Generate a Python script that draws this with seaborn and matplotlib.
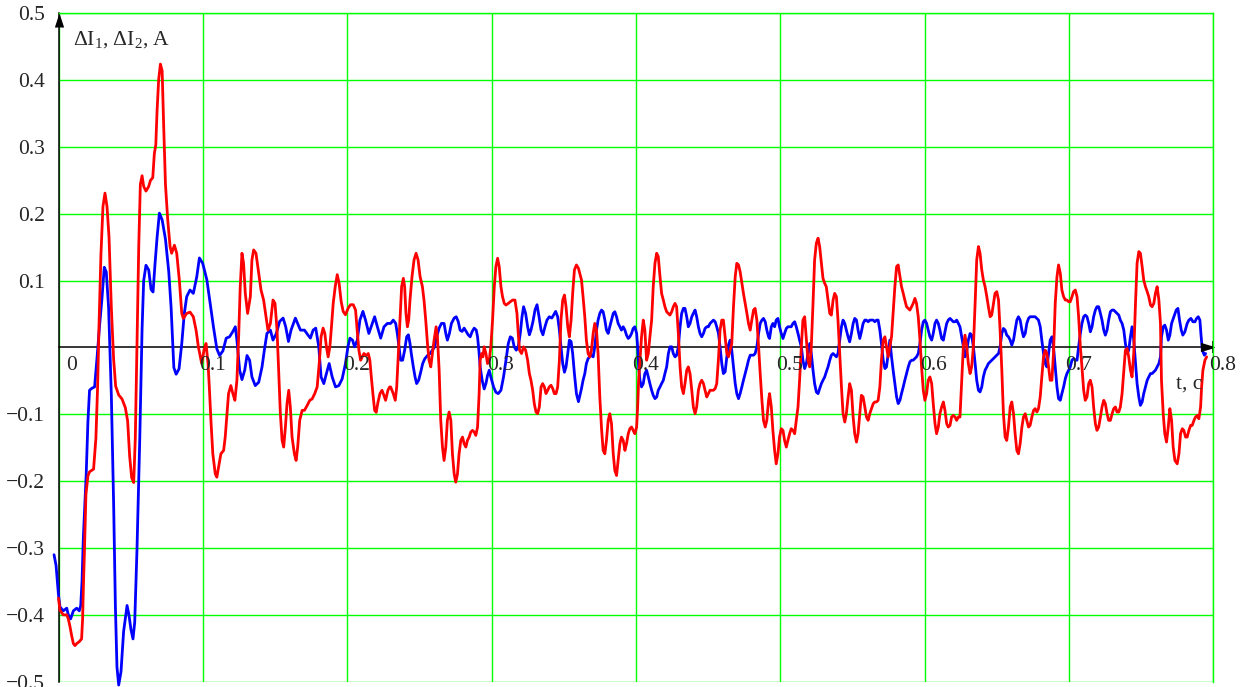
import numpy as np
import pandas as pd
import matplotlib
matplotlib.use("Agg")
import matplotlib.pyplot as plt
import seaborn as sns
from matplotlib.transforms import offset_copy

# values: t in s, current deviation in A
# start of the record (t < 0.36), blue = dI1
t_start_blue = [
    -0.0031, -0.0017, -0.0008, -0.0001, 0.0010, 0.0033, 0.0057, 0.0068, 0.0084, 0.0103,
    0.0126, 0.0144, 0.0154, 0.0163, 0.0172,
    0.0192, 0.0204, 0.0215, 0.0231, 0.0250, 0.0266, 0.0285, 0.0301, 0.0317,
    0.0331, 0.0347, 0.0366, 0.0382, 0.0394, 0.0405, 0.0417, 0.0433, 0.0451, 0.0475,
    0.0488, 0.0502, 0.0516, 0.0528, 0.0544, 0.0563, 0.0579, 0.0590, 0.0606, 0.0625,
    0.0641, 0.0655, 0.0669, 0.0683, 0.0699, 0.0718,
    0.0741, 0.0764, 0.0780, 0.0799, 0.0815, 0.0835, 0.0854, 0.0871, 0.0888, 0.0911,
    0.0934, 0.0958, 0.0976, 0.0999,
    0.1028, 0.1051, 0.1074, 0.1097, 0.1116, 0.1139, 0.1162, 0.1185,
    0.1208, 0.1225, 0.1236, 0.1255, 0.1271, 0.1290, 0.1306, 0.1324, 0.1340, 0.1363,
    0.1387, 0.1410, 0.1426, 0.1444, 0.1468, 0.1486, 0.1509, 0.1532, 0.1556, 0.1574,
    0.1593, 0.1611, 0.1641, 0.1660, 0.1676, 0.1704, 0.1727, 0.1745, 0.1764, 0.1782,
    0.1803, 0.1819, 0.1838, 0.1856, 0.1875, 0.1896, 0.1919, 0.1942, 0.1965, 0.1988,
    0.2005, 0.2019, 0.2037, 0.2051, 0.2070, 0.2088, 0.2109, 0.2127, 0.2150, 0.2174,
    0.2190, 0.2209, 0.2232, 0.2255, 0.2278,
    0.2301, 0.2319, 0.2336, 0.2347, 0.2359, 0.2370, 0.2384, 0.2398, 0.2412, 0.2424,
    0.2435, 0.2444, 0.2458, 0.2470, 0.2481, 0.2495, 0.2509, 0.2523, 0.2537, 0.2556,
    0.2574, 0.2590, 0.2606, 0.2620, 0.2637, 0.2653, 0.2671, 0.2683, 0.2694, 0.2708,
    0.2722, 0.2741, 0.2755, 0.2769, 0.2782, 0.2796, 0.2810, 0.2824, 0.2838, 0.2852,
    0.2866, 0.2880, 0.2894, 0.2903, 0.2912, 0.2921, 0.2935, 0.2949, 0.2961, 0.2972,
    0.2984, 0.2995, 0.3014, 0.3030, 0.3046, 0.3065, 0.3083, 0.3100, 0.3116, 0.3130,
    0.3144, 0.3157, 0.3171, 0.3185, 0.3199, 0.3211, 0.3222, 0.3236, 0.3250, 0.3262,
    0.3273, 0.3287, 0.3301, 0.3315, 0.3329, 0.3343, 0.3356, 0.3370, 0.3384, 0.3400,
    0.3417, 0.3431, 0.3444, 0.3458, 0.3470, 0.3481, 0.3493, 0.3505, 0.3516, 0.3528,
    0.3539, 0.3551, 0.3562, 0.3574, 0.3588, 0.3602,
]
i_start_blue = [
    -0.310, -0.326, -0.350, -0.368, -0.388, -0.394, -0.390, -0.400, -0.406, -0.394,
    -0.390, -0.394, -0.386, -0.350, -0.285,
    -0.189, -0.110, -0.064, -0.061, -0.059, -0.018, 0.034, 0.073, 0.120,
    0.113, 0.060, -0.071, -0.235, -0.386, -0.478, -0.505, -0.485, -0.425, -0.386,
    -0.400, -0.422, -0.436, -0.411, -0.300, -0.136, 0.028, 0.100, 0.123, 0.116,
    0.087, 0.083, 0.126, 0.165, 0.201, 0.191,
    0.162, 0.113, 0.060, -0.030, -0.040, -0.032, 0.006, 0.050, 0.076, 0.086,
    0.081, 0.106, 0.134, 0.126,
    0.101, 0.066, 0.030, -0.002, -0.012, -0.005, 0.014, 0.016,
    0.024, 0.031, 0.011, -0.034, -0.048, -0.034, -0.012, -0.019, -0.044, -0.057,
    -0.052, -0.029, -0.004, 0.021, 0.026, 0.011, 0.021, 0.039, 0.044, 0.031,
    0.009, 0.026, 0.044, 0.034, 0.026, 0.026, 0.019, 0.014, 0.026, 0.029,
    0.001, -0.044, -0.054, -0.039, -0.024, -0.044, -0.059, -0.057, -0.047, -0.024,
    0.001, 0.014, 0.011, 0.001, 0.011, 0.041, 0.054, 0.041, 0.021, 0.036,
    0.046, 0.031, 0.014, 0.031, 0.036,
    0.036, 0.041, 0.036, 0.021, 0.001, -0.019, -0.019, -0.004, 0.016, 0.019,
    0.006, -0.009, -0.029, -0.044, -0.054, -0.049, -0.037, -0.024, -0.017, -0.012,
    -0.009, -0.004, 0.001, 0.016, 0.029, 0.036, 0.036, 0.021, 0.011, 0.021,
    0.036, 0.044, 0.046, 0.039, 0.026, 0.024, 0.029, 0.024, 0.019, 0.016,
    0.024, 0.029, 0.026, 0.016, -0.004, -0.029, -0.049, -0.062, -0.054, -0.042,
    -0.034, -0.044, -0.059, -0.067, -0.069, -0.064, -0.044, -0.019, 0.006, 0.016,
    0.014, 0.001, -0.004, 0.001, 0.021, 0.046, 0.061, 0.051, 0.031, 0.019,
    0.026, 0.039, 0.056, 0.064, 0.046, 0.026, 0.019, 0.031, 0.041, 0.046,
    0.044, 0.049, 0.054, 0.046, 0.026, 0.001, -0.024, -0.037, -0.029, -0.009,
    0.011, 0.009, -0.009, -0.039, -0.069, -0.081,
]

# start of the record, red = dI2
t_start_red = [
    0.0000, 0.0010, 0.0033, 0.0057, 0.0068, 0.0080, 0.0091, 0.0103, 0.0114, 0.0126,
    0.0144, 0.0160, 0.0167, 0.0172, 0.0179, 0.0190, 0.0204,
    0.0215, 0.0243, 0.0259, 0.0271, 0.0280, 0.0294, 0.0308, 0.0322, 0.0336,
    0.0350, 0.0366, 0.0382, 0.0396, 0.0417, 0.0440, 0.0463, 0.0479, 0.0493, 0.0507,
    0.0521, 0.0532, 0.0544, 0.0556, 0.0567, 0.0579, 0.0590, 0.0606, 0.0625, 0.0637,
    0.0653, 0.0664, 0.0674, 0.0683, 0.0694, 0.0706, 0.0718, 0.0729, 0.0741,
    0.0757, 0.0773, 0.0784, 0.0803, 0.0819, 0.0837, 0.0854, 0.0865, 0.0888, 0.0911,
    0.0934, 0.0953, 0.0969, 0.0992, 0.1008, 0.1022, 0.1036, 0.1045,
    0.1056, 0.1069, 0.1086, 0.1097, 0.1109, 0.1125, 0.1144, 0.1155, 0.1167,
    0.1178, 0.1194, 0.1208, 0.1222, 0.1236, 0.1248, 0.1259, 0.1271, 0.1282, 0.1294,
    0.1310, 0.1329, 0.1340, 0.1352, 0.1368, 0.1387, 0.1403, 0.1421, 0.1438, 0.1451,
    0.1468, 0.1486, 0.1500, 0.1514, 0.1525, 0.1537, 0.1549, 0.1560, 0.1572, 0.1583,
    0.1595, 0.1606, 0.1618, 0.1634, 0.1646, 0.1657, 0.1671, 0.1688, 0.1704, 0.1722,
    0.1741, 0.1757, 0.1775, 0.1792, 0.1808, 0.1819, 0.1833, 0.1845, 0.1856, 0.1868,
    0.1880, 0.1891, 0.1903, 0.1917, 0.1931, 0.1944, 0.1958, 0.1972, 0.1988, 0.2007,
    0.2023, 0.2042, 0.2058, 0.2069, 0.2081, 0.2093, 0.2104, 0.2116, 0.2132, 0.2146,
    0.2157, 0.2167, 0.2178, 0.2190, 0.2201, 0.2213, 0.2227, 0.2241, 0.2255, 0.2266,
    0.2282, 0.2294,
    0.2301, 0.2319, 0.2333, 0.2343, 0.2352, 0.2366, 0.2377, 0.2389, 0.2398, 0.2407,
    0.2417, 0.2426, 0.2435, 0.2449, 0.2463, 0.2477, 0.2491, 0.2505, 0.2521, 0.2532,
    0.2544, 0.2556, 0.2567, 0.2579, 0.2590, 0.2602, 0.2616, 0.2625, 0.2637, 0.2648,
    0.2660, 0.2671, 0.2683, 0.2694, 0.2706, 0.2718, 0.2729, 0.2741, 0.2752, 0.2764,
    0.2775, 0.2787, 0.2799, 0.2810, 0.2822, 0.2833, 0.2845, 0.2856, 0.2868, 0.2880,
    0.2891, 0.2903, 0.2914, 0.2921, 0.2931, 0.2940, 0.2949, 0.2961, 0.2972, 0.2984,
    0.2995, 0.3007, 0.3019, 0.3030, 0.3042, 0.3053, 0.3065, 0.3076, 0.3088, 0.3100,
    0.3116, 0.3130, 0.3146, 0.3162, 0.3176, 0.3185, 0.3194, 0.3208, 0.3222, 0.3236,
    0.3250, 0.3262, 0.3273, 0.3285, 0.3296, 0.3308, 0.3319, 0.3331, 0.3343, 0.3354,
    0.3366, 0.3377, 0.3389, 0.3400, 0.3412, 0.3424, 0.3435, 0.3447, 0.3458, 0.3470,
    0.3481, 0.3493, 0.3505, 0.3516, 0.3528, 0.3539, 0.3551, 0.3562, 0.3574, 0.3588,
    0.3602,
]
i_start_red = [
    -0.375, -0.393, -0.400, -0.400, -0.406, -0.418, -0.431, -0.443, -0.446, -0.443,
    -0.440, -0.436, -0.406, -0.361, -0.310, -0.220, -0.192,
    -0.186, -0.182, -0.136, -0.058, 0.028, 0.139, 0.211, 0.231, 0.211,
    0.165, 0.060, -0.018, -0.058, -0.071, -0.077, -0.090, -0.110, -0.163, -0.195,
    -0.202, -0.136, 0.008, 0.152, 0.244, 0.257, 0.241, 0.234, 0.241, 0.250,
    0.254, 0.290, 0.303, 0.355, 0.401, 0.424, 0.414, 0.329, 0.244,
    0.190, 0.151, 0.141, 0.153, 0.141, 0.101, 0.051, 0.0435, 0.051, 0.053,
    0.046, 0.026, 0.001, -0.024, -0.004, 0.006, -0.024, -0.060,
    -0.109, -0.159, -0.189, -0.194, -0.179, -0.159, -0.154, -0.134, -0.099,
    -0.069, -0.057, -0.069, -0.079, -0.049, 0.016, 0.091, 0.141, 0.126, 0.081,
    0.051, 0.076, 0.131, 0.146, 0.141, 0.111, 0.086, 0.071, 0.046, 0.026,
    0.036, 0.071, 0.066, 0.026, -0.034, -0.099, -0.139, -0.149, -0.119, -0.084,
    -0.064, -0.089, -0.134, -0.159, -0.169, -0.149, -0.109, -0.094, -0.094, -0.087,
    -0.079, -0.077, -0.069, -0.059, -0.019, 0.016, 0.029, 0.021, 0.001, -0.014,
    0.001, 0.031, 0.066, 0.091, 0.109, 0.096, 0.069, 0.054, 0.049, 0.059,
    0.064, 0.064, 0.056, 0.026, -0.004, -0.019, -0.014, -0.009, -0.012, -0.009,
    -0.019, -0.044, -0.069, -0.094, -0.097, -0.082, -0.069, -0.064, -0.072, -0.079,
    -0.064, -0.059,
    -0.059, -0.069, -0.079, -0.059, -0.019, 0.041, 0.091, 0.1035, 0.091, 0.051,
    0.031, 0.041, 0.071, 0.106, 0.131, 0.141, 0.131, 0.106, 0.091, 0.071,
    0.041, 0.006, -0.019, -0.029, -0.009, 0.011, 0.031, 0.016, -0.034, -0.109,
    -0.149, -0.169, -0.149, -0.109, -0.0965, -0.109, -0.159, -0.189, -0.2015, -0.189,
    -0.159, -0.139, -0.134, -0.144, -0.149, -0.139, -0.134, -0.1265, -0.124, -0.1265,
    -0.1315, -0.119, -0.069, -0.019, -0.009, -0.014, 0.001, -0.009, -0.024, -0.019,
    0.001, 0.041, 0.091, 0.121, 0.1335, 0.121, 0.091, 0.076, 0.066, 0.0635,
    0.066, 0.0685, 0.071, 0.071, 0.051, 0.021, -0.004, -0.009, 0.001, -0.004,
    -0.019, -0.039, -0.049, -0.064, -0.084, -0.0965, -0.099, -0.089, -0.059, -0.054,
    -0.059, -0.069, -0.064, -0.059, -0.0565, -0.0615, -0.069, -0.069, -0.059, -0.019,
    0.041, 0.071, 0.0785, 0.061, 0.031, 0.016, 0.041, 0.081, 0.116, 0.1235,
    0.1185,
]

# middle part (0.36 .. 0.76), both currents read at the same instants
t_mid = [
    0.3623, 0.3634, 0.3646, 0.3657, 0.3669, 0.3681, 0.3692, 0.3704, 0.3715, 0.3727,
    0.3738, 0.3750, 0.3762, 0.3773, 0.3785, 0.3796, 0.3808, 0.3819, 0.3831, 0.3843,
    0.3854, 0.3866, 0.3877, 0.3889, 0.3900, 0.3912, 0.3924, 0.3935, 0.3947, 0.3958,
    0.3970, 0.3981, 0.3993, 0.4005, 0.4012, 0.4019, 0.4028, 0.4039, 0.4051, 0.4062,
    0.4074, 0.4086, 0.4097, 0.4109, 0.4120, 0.4132, 0.4144, 0.4155, 0.4167, 0.4178,
    0.4190, 0.4201, 0.4213, 0.4225, 0.4236, 0.4248, 0.4259, 0.4271, 0.4282, 0.4294,
    0.4306, 0.4317, 0.4329, 0.4340, 0.4352, 0.4363, 0.4375, 0.4387, 0.4398, 0.4410,
    0.4421, 0.4433, 0.4444, 0.4456, 0.4468, 0.4479, 0.4491, 0.4502, 0.4514, 0.4525,
    0.4537, 0.4549, 0.4560, 0.4572, 0.4583, 0.4595, 0.4606, 0.4618, 0.4630, 0.4641,
    0.4653, 0.4664, 0.4676, 0.4688, 0.4699, 0.4711, 0.4722, 0.4734, 0.4745, 0.4757,
    0.4769, 0.4780, 0.4792, 0.4803, 0.4815, 0.4826, 0.4838, 0.4850, 0.4861, 0.4873,
    0.4884, 0.4896, 0.4907, 0.4919,
    0.4926, 0.4938, 0.4949, 0.4961, 0.4972, 0.4984, 0.4995, 0.5007, 0.5019, 0.5030,
    0.5042, 0.5053, 0.5065, 0.5076, 0.5088, 0.5100, 0.5111, 0.5123, 0.5134, 0.5146,
    0.5157, 0.5169, 0.5181, 0.5192, 0.5204, 0.5215, 0.5227, 0.5238, 0.5250, 0.5262,
    0.5273, 0.5285, 0.5296, 0.5308, 0.5319, 0.5331, 0.5343, 0.5354, 0.5366, 0.5377,
    0.5389, 0.5400, 0.5412, 0.5424, 0.5435, 0.5447, 0.5458, 0.5470, 0.5481, 0.5493,
    0.5505, 0.5516, 0.5528, 0.5539, 0.5551, 0.5562, 0.5574, 0.5586, 0.5597, 0.5609,
    0.5620, 0.5632, 0.5644, 0.5655, 0.5667, 0.5678, 0.5690, 0.5701, 0.5713, 0.5725,
    0.5736, 0.5748, 0.5759, 0.5771, 0.5782, 0.5794, 0.5806, 0.5817, 0.5829, 0.5840,
    0.5852, 0.5863, 0.5875, 0.5887, 0.5898, 0.5910, 0.5921, 0.5933, 0.5944, 0.5956,
    0.5968, 0.5979, 0.5991, 0.6002, 0.6014, 0.6025, 0.6037, 0.6049, 0.6060, 0.6072,
    0.6083, 0.6095, 0.6106, 0.6118, 0.6130, 0.6141, 0.6153, 0.6164, 0.6176, 0.6187,
    0.6199, 0.6211, 0.6222, 0.6234,
    0.6245, 0.6257, 0.6269, 0.6280, 0.6292, 0.6303, 0.6315, 0.6326, 0.6338, 0.6350,
    0.6361, 0.6373, 0.6384, 0.6396, 0.6407, 0.6419, 0.6431, 0.6442, 0.6454, 0.6465,
    0.6477, 0.6488, 0.6500, 0.6512, 0.6523, 0.6535, 0.6546, 0.6558, 0.6569, 0.6581,
    0.6593, 0.6604, 0.6616, 0.6627, 0.6639, 0.6650, 0.6662, 0.6674, 0.6685, 0.6697,
    0.6708, 0.6720, 0.6731, 0.6743, 0.6755, 0.6766, 0.6778, 0.6789, 0.6801, 0.6812,
    0.6824, 0.6836, 0.6847, 0.6859, 0.6870, 0.6882, 0.6893, 0.6905, 0.6917, 0.6928,
    0.6940, 0.6951, 0.6963, 0.6975, 0.6986, 0.6998, 0.7009, 0.7021, 0.7032, 0.7044,
    0.7056, 0.7067, 0.7079, 0.7090, 0.7102, 0.7113, 0.7125, 0.7137, 0.7148, 0.7160,
    0.7171, 0.7183, 0.7194, 0.7206, 0.7218, 0.7229, 0.7241, 0.7252, 0.7264, 0.7275,
    0.7287, 0.7299, 0.7310, 0.7322, 0.7333, 0.7345, 0.7356, 0.7368, 0.7380, 0.7391,
    0.7403, 0.7414, 0.7426, 0.7437, 0.7449, 0.7461, 0.7472, 0.7484, 0.7495, 0.7507,
    0.7518, 0.7530, 0.7542, 0.7553, 0.7565, 0.7576, 0.7588, 0.7599, 0.7611, 0.7623,
    0.7634,
]
i_mid_blue = [
    -0.0615, -0.049, -0.039, -0.024, -0.0165, -0.014, -0.0115, -0.014, 0.001, 0.026,
    0.041, 0.051, 0.056, 0.0535, 0.041, 0.026, 0.021, 0.031, 0.041, 0.051,
    0.0535, 0.046, 0.036, 0.031, 0.026, 0.031, 0.026, 0.0185, 0.0135, 0.016,
    0.021, 0.0285, 0.031, 0.021, 0.001, -0.029, -0.049, -0.059, -0.054, -0.039,
    -0.034, -0.044, -0.054, -0.064, -0.0715, -0.0765, -0.074, -0.064, -0.059, -0.054,
    -0.049, -0.039, -0.029, -0.009, 0.001, 0.001, -0.009, -0.014, -0.0115, 0.001,
    0.031, 0.051, 0.0585, 0.0585, 0.046, 0.031, 0.036, 0.046, 0.051, 0.056,
    0.046, 0.031, 0.021, 0.016, 0.021, 0.0285, 0.031, 0.031, 0.036, 0.0385,
    0.041, 0.0385, 0.031, 0.021, 0.001, -0.024, -0.039, -0.0365, -0.014, 0.0035,
    0.011, -0.004, -0.029, -0.054, -0.069, -0.0765, -0.069, -0.059, -0.049, -0.039,
    -0.029, -0.019, -0.0115, -0.0115, -0.0115, -0.009, 0.001, 0.021, 0.036, 0.041,
    0.0435, 0.0385, 0.026, 0.016,
    0.0135, 0.031, 0.036, 0.031, 0.041, 0.0435, 0.031, 0.021, 0.0135, 0.021,
    0.0285, 0.031, 0.031, 0.031, 0.036, 0.0385, 0.031, 0.021, 0.011, 0.001,
    -0.019, -0.0315, -0.024, -0.009, 0.006, -0.009, -0.034, -0.054, -0.0665, -0.069,
    -0.0615, -0.054, -0.049, -0.044, -0.0365, -0.029, -0.019, -0.0115, -0.009, -0.0115,
    -0.014, -0.009, 0.011, 0.031, 0.041, 0.036, 0.026, 0.016, 0.0085, 0.021,
    0.036, 0.0435, 0.041, 0.026, 0.0135, 0.0235, 0.036, 0.041, 0.041, 0.0385,
    0.041, 0.041, 0.041, 0.0385, 0.041, 0.041, 0.026, 0.006, -0.019, -0.0315,
    -0.029, -0.009, 0.011, -0.014, -0.034, -0.054, -0.074, -0.084, -0.079, -0.069,
    -0.059, -0.049, -0.039, -0.029, -0.0215, -0.019, -0.019, -0.0165, -0.014, -0.009,
    0.006, 0.026, 0.0385, 0.041, 0.036, 0.026, 0.016, 0.011, 0.021, 0.036,
    0.041, 0.036, 0.026, 0.0135, 0.011, 0.0235, 0.036, 0.041, 0.0435, 0.041,
    0.0385, 0.0385, 0.041, 0.036,
    0.031, 0.016, 0.001, -0.014, -0.004, 0.011, 0.021, 0.0185, 0.001, -0.024,
    -0.049, -0.064, -0.0665, -0.059, -0.044, -0.034, -0.029, -0.024, -0.0215, -0.019,
    -0.0165, -0.014, -0.0115, -0.009, 0.001, 0.021, 0.0285, 0.026, 0.0185, 0.016,
    0.011, 0.0035, 0.011, 0.026, 0.041, 0.046, 0.041, 0.026, 0.016, 0.021,
    0.036, 0.0435, 0.046, 0.046, 0.046, 0.046, 0.0435, 0.041, 0.031, 0.011,
    -0.009, -0.024, -0.029, -0.009, 0.011, 0.016, 0.001, -0.029, -0.059, -0.0765,
    -0.079, -0.069, -0.059, -0.0465, -0.039, -0.034, -0.029, -0.019, -0.0165, -0.019,
    -0.019, 0.001, 0.021, 0.036, 0.046, 0.0485, 0.046, 0.036, 0.0235, 0.031,
    0.046, 0.056, 0.061, 0.061, 0.051, 0.041, 0.026, 0.0185, 0.026, 0.041,
    0.0535, 0.056, 0.056, 0.0535, 0.051, 0.0485, 0.041, 0.036, 0.026, 0.006,
    -0.009, -0.004, 0.016, 0.031, 0.011, -0.024, -0.054, -0.074, -0.0865, -0.0815,
    -0.069, -0.059, -0.049, -0.044, -0.039, -0.039, -0.0365, -0.034, -0.029, -0.024,
    -0.014,
]
i_mid_red = [
    0.101, 0.076, 0.046, 0.011, -0.009, -0.014, -0.004, 0.021, 0.036, 0.026,
    -0.009, -0.074, -0.1215, -0.154, -0.159, -0.139, -0.109, -0.099, -0.114, -0.159,
    -0.184, -0.1915, -0.169, -0.144, -0.134, -0.139, -0.154, -0.144, -0.129, -0.1215,
    -0.119, -0.124, -0.129, -0.119, -0.089, -0.049, -0.019, 0.016, 0.041, 0.026,
    -0.019, -0.009, 0.016, 0.041, 0.091, 0.126, 0.141, 0.136, 0.106, 0.081,
    0.071, 0.061, 0.0535, 0.051, 0.0485, 0.0535, 0.061, 0.066, 0.061, 0.021,
    -0.029, -0.059, -0.069, -0.054, -0.034, -0.029, -0.039, -0.064, -0.089, -0.099,
    -0.089, -0.064, -0.054, -0.049, -0.054, -0.064, -0.074, -0.069, -0.064, -0.064,
    -0.064, -0.0615, -0.054, -0.017, 0.026, 0.041, 0.041, 0.016, -0.009, -0.014,
    -0.004, 0.006, 0.061, 0.106, 0.126, 0.1235, 0.1135, 0.096, 0.081, 0.066,
    0.051, 0.036, 0.026, 0.041, 0.056, 0.0585, 0.041, 0.001, -0.039, -0.079,
    -0.109, -0.119, -0.109, -0.079,
    -0.069, -0.089, -0.124, -0.154, -0.174, -0.159, -0.134, -0.1215, -0.124, -0.139,
    -0.149, -0.139, -0.129, -0.1215, -0.124, -0.129, -0.109, -0.089, -0.049, 0.001,
    0.041, 0.046, 0.011, -0.019, -0.029, 0.001, 0.066, 0.131, 0.156, 0.1635,
    0.151, 0.126, 0.1035, 0.096, 0.091, 0.071, 0.051, 0.0485, 0.071, 0.081,
    0.076, 0.041, -0.009, -0.059, -0.099, -0.1115, -0.099, -0.074, -0.054, -0.064,
    -0.104, -0.129, -0.1415, -0.129, -0.099, -0.0715, -0.074, -0.089, -0.104, -0.109,
    -0.099, -0.0915, -0.084, -0.0815, -0.0815, -0.079, -0.059, -0.019, 0.011, 0.016,
    0.001, -0.014, 0.001, 0.016, 0.051, 0.091, 0.121, 0.1235, 0.106, 0.091,
    0.081, 0.071, 0.061, 0.0585, 0.056, 0.061, 0.066, 0.0735, 0.066, 0.046,
    0.011, -0.029, -0.064, -0.079, -0.069, -0.049, -0.044, -0.054, -0.084, -0.114,
    -0.129, -0.119, -0.099, -0.089, -0.0815, -0.094, -0.114, -0.119, -0.1165, -0.104,
    -0.1015, -0.104, -0.109, -0.104,
    -0.104, -0.049, 0.0035, 0.0185, 0.001, -0.024, -0.039, -0.029, 0.001, 0.066,
    0.131, 0.151, 0.141, 0.116, 0.101, 0.091, 0.076, 0.061, 0.046, 0.0485,
    0.066, 0.081, 0.0835, 0.071, 0.026, -0.034, -0.099, -0.134, -0.139, -0.119,
    -0.089, -0.0815, -0.099, -0.129, -0.154, -0.159, -0.144, -0.119, -0.104, -0.099,
    -0.109, -0.119, -0.1165, -0.104, -0.094, -0.0915, -0.0965, -0.0915, -0.074, -0.044,
    -0.014, -0.004, -0.009, -0.029, -0.049, -0.049, -0.009, 0.066, 0.106, 0.1235,
    0.111, 0.086, 0.076, 0.071, 0.071, 0.0685, 0.0685, 0.076, 0.0835, 0.086,
    0.076, 0.046, 0.001, -0.029, -0.064, -0.079, -0.074, -0.054, -0.049, -0.059,
    -0.089, -0.114, -0.124, -0.119, -0.104, -0.089, -0.079, -0.084, -0.099, -0.109,
    -0.109, -0.099, -0.0915, -0.089, -0.0965, -0.0965, -0.089, -0.069, -0.034, -0.004,
    -0.0015, -0.014, -0.034, -0.044, -0.009, 0.066, 0.126, 0.1435, 0.141, 0.121,
    0.101, 0.091, 0.0835, 0.076, 0.0635, 0.061, 0.066, 0.081, 0.091, 0.071,
    0.036,
]

# end of the record (t > 0.76)
t_end_blue = [
    0.7641, 0.7653, 0.7664, 0.7676, 0.7688, 0.7699, 0.7711, 0.7727, 0.7743, 0.7755,
    0.7766, 0.7778, 0.7789, 0.7803, 0.7819, 0.7831, 0.7845, 0.7859, 0.7873, 0.7884,
    0.7896, 0.7907, 0.7914, 0.7924, 0.7938, 0.7947,
]
i_end_blue = [
    0.016, 0.031, 0.0335, 0.026, 0.011, 0.0185, 0.036, 0.046, 0.056, 0.0585,
    0.041, 0.026, 0.0185, 0.0235, 0.036, 0.041, 0.0435, 0.0385, 0.0385, 0.0435,
    0.046, 0.041, 0.021, -0.004, -0.0115, -0.009,
]
t_end_red = [
    0.7641, 0.7653, 0.7664, 0.7676, 0.7688, 0.7699, 0.7711, 0.7722, 0.7734, 0.7750,
    0.7762, 0.7773, 0.7785, 0.7796, 0.7808, 0.7819, 0.7831, 0.7843, 0.7854, 0.7866,
    0.7877, 0.7889, 0.7900, 0.7912, 0.7919, 0.7928, 0.7942, 0.7954,
]
i_end_red = [
    -0.049, -0.099, -0.129, -0.1415, -0.119, -0.0915, -0.109, -0.149, -0.169, -0.174,
    -0.159, -0.129, -0.1215, -0.124, -0.134, -0.134, -0.124, -0.1165, -0.1165, -0.109,
    -0.104, -0.1015, -0.1065, -0.089, -0.059, -0.034, -0.019, -0.014,
]

x_ticks = [0.0, 0.1, 0.2, 0.3, 0.4, 0.5, 0.6, 0.7, 0.8]
x_labels = ["0", "0.1", "0.2", "0.3", "0.4", "0.5", "0.6", "0.7", "0.8"]
y_ticks = [-0.5, -0.4, -0.3, -0.2, -0.1, 0.0, 0.1, 0.2, 0.3, 0.4, 0.5]
y_labels = ["\u22120.5", "\u22120.4", "\u22120.3", "\u22120.2", "\u22120.1", "",
            "0.1", "0.2", "0.3", "0.4", "0.5"]


blue = pd.DataFrame({"t": t_start_blue + t_mid + t_end_blue,
                     "i": i_start_blue + i_mid_blue + i_end_blue})
red = pd.DataFrame({"t": t_start_red + t_mid + t_end_red,
                    "i": i_start_red + i_mid_red + i_end_red})

sns.set_style("white")
plt.rcParams["font.family"] = ["Liberation Serif", "DejaVu Serif"]
plt.rcParams["mathtext.fontset"] = "custom"
plt.rcParams["mathtext.rm"] = "Liberation Serif"
plt.rcParams["mathtext.default"] = "regular"

fs = 15.5
fig = plt.figure(figsize=(12.45, 6.87), dpi=100)
ax = fig.add_axes([58.5 / 1245, 5.3 / 687, 1154.8 / 1245, 668.4 / 687])

sns.lineplot(data=blue, x="t", y="i", color="#0000ff", linewidth=2.0,
             estimator=None, sort=False, ax=ax)
sns.lineplot(data=red, x="t", y="i", color="#ff0000", linewidth=2.0,
             estimator=None, sort=False, ax=ax)
# the trace starts a hair left of the vertical axis
for line in ax.lines:
    line.set_clip_on(False)

ax.set_xlim(0, 0.8)
ax.set_ylim(-0.5, 0.5)
ax.set_xlabel("")
ax.set_ylabel("")

ax.set_xticks(x_ticks)
ax.set_yticks(y_ticks)
ax.set_yticklabels(y_labels)
ax.grid(True, color="#00ff00", linewidth=1.0)
ax.set_axisbelow(True)
for gl, v in zip(ax.get_xgridlines(), x_ticks):
    if v == 0:
        gl.set_visible(False)
for gl, v in zip(ax.get_ygridlines(), y_ticks):
    if v == 0:
        gl.set_visible(False)

# axes cross at the origin, frame shows as grid
ax.spines["bottom"].set_position(("data", 0))
for side in ["top", "right"]:
    ax.spines[side].set_color("#00ff00")
    ax.spines[side].set_linewidth(1.0)
for side in ["left", "bottom"]:
    ax.spines[side].set_color("black")
    ax.spines[side].set_linewidth(1.1)
    ax.spines[side].set_zorder(1.5)

ax.tick_params(axis="x", direction="in", length=4, width=1, color="black",
               labelbottom=False)
ax.tick_params(axis="y", length=0, pad=10, labelsize=fs)

for x, lab in zip(x_ticks, x_labels):
    dx = 8 if x == 0 else -4
    ax.text(x, 0, lab, fontsize=fs, ha="left", va="top",
            transform=offset_copy(ax.transData, fig=fig, x=dx, y=-9, units="dots"))

# arrow heads on the axes and end bar at t = 0.8
ax.plot([0.99475], [0], marker=[(-1, -0.6), (1, 0), (-1, 0.6)], color="black",
        markersize=9.4, transform=ax.get_yaxis_transform(), clip_on=False)
ax.plot([1.0], [0], marker="|", color="black", markersize=9, markeredgewidth=1.1,
        transform=ax.get_yaxis_transform(), clip_on=False)
ax.plot([0], [0.989], marker=[(-0.65, -1), (0, 1), (0.65, -1)], color="black",
        markersize=8.6, transform=ax.get_xaxis_transform(), clip_on=False)

ax.text(0.010, 0.4536, "\u0394I$_1$, \u0394I$_2$, A", fontsize=fs,
        ha="left", va="baseline")
ax.text(0.7744, -0.0615, "t, c", fontsize=fs, ha="left", va="baseline")

fig.savefig("out.png", dpi=100)
